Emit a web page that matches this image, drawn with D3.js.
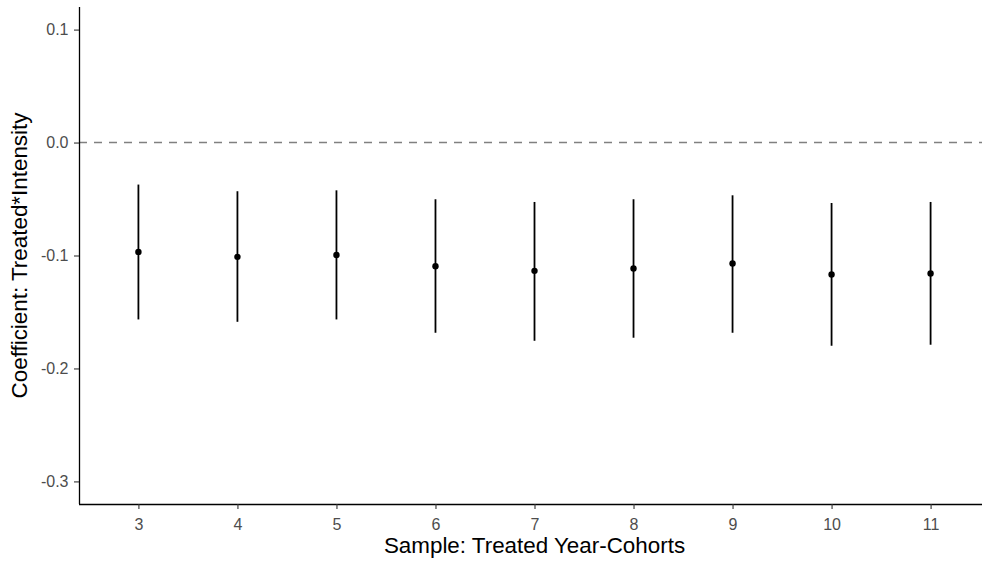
<!DOCTYPE html>
<html>
<head>
<meta charset="utf-8">
<script src="https://cdn.jsdelivr.net/npm/d3@7"></script>
<style>
  html, body { margin: 0; padding: 0; background: #fff; }
  svg { display: block; }
</style>
</head>
<body>
<svg id="chart" width="982" height="562"></svg>
<script>
const categories = ["3", "4", "5", "6", "7", "8", "9", "10", "11"];
const estimates = [-0.0968, -0.1012, -0.0995, -0.1095, -0.1136, -0.1115, -0.1071, -0.1168, -0.1159];
const ciLower = [-0.1566, -0.1587, -0.1566, -0.1684, -0.1755, -0.1728, -0.1684, -0.1799, -0.1790];
const ciUpper = [-0.0372, -0.0431, -0.0423, -0.0502, -0.0526, -0.0502, -0.0467, -0.0535, -0.0526];
const yTicks = [0.1, 0.0, -0.1, -0.2, -0.3];
const yTickLabels = ["0.1", "0.0", "-0.1", "-0.2", "-0.3"];
const xTitle = "Sample: Treated Year-Cohorts";
const yTitle = "Coefficient: Treated*Intensity";

(function () {
const data = categories.map((c, i) => ({ c, est: estimates[i], lo: ciLower[i], hi: ciUpper[i] }));

const svg = d3.select("#chart");
const pLeft = 79, pRight = 990, pTop = 7, pBottom = 504, visRight = 982;

const x = d3.scalePoint().domain(categories).range([pLeft, pRight]).padding(0.6);
const y = d3.scaleLinear().domain([-0.32, 0.12]).range([pBottom, pTop]);

const font = "Arial, 'Liberation Sans', sans-serif";

// zero reference line
svg.append("line")
  .attr("x1", pLeft).attr("x2", visRight)
  .attr("y1", y(0)).attr("y2", y(0))
  .attr("stroke", "#808080").attr("stroke-width", 1.4)
  .attr("stroke-dasharray", "8,7");

// error bars
svg.append("g").selectAll("line").data(data).join("line")
  .attr("x1", d => x(d.c)).attr("x2", d => x(d.c))
  .attr("y1", d => y(d.hi)).attr("y2", d => y(d.lo))
  .attr("stroke", "#000").attr("stroke-width", 1.8);

// points
svg.append("g").selectAll("circle").data(data).join("circle")
  .attr("cx", d => x(d.c)).attr("cy", d => y(d.est))
  .attr("r", 3.2).attr("fill", "#000");

// y axis
const yAxis = svg.append("g").attr("transform", `translate(${pLeft},0)`)
  .call(d3.axisLeft(y).tickValues(yTicks)
    .tickFormat((d, i) => yTickLabels[i]).tickSize(5).tickPadding(5.5));
yAxis.select(".domain").attr("stroke", "#000").attr("stroke-width", 1.3)
  .attr("d", `M0.5,${pTop}V${pBottom}`);
yAxis.selectAll(".tick line").attr("stroke", "#333").attr("stroke-width", 1.1);
yAxis.selectAll(".tick text").attr("fill", "#4D4D4D")
  .style("font-size", "16px").style("font-family", font);

// x axis
const xAxis = svg.append("g").attr("transform", `translate(0,${pBottom})`)
  .call(d3.axisBottom(x).tickSize(5).tickPadding(10));
xAxis.select(".domain").attr("stroke", "#000").attr("stroke-width", 1.3)
  .attr("d", `M${pLeft},0.5H${visRight}`);
xAxis.selectAll(".tick line").attr("stroke", "#333").attr("stroke-width", 1.1);
xAxis.selectAll(".tick text").attr("fill", "#4D4D4D")
  .style("font-size", "16px").style("font-family", font);

// titles
svg.append("text")
  .attr("x", (pLeft + pRight) / 2).attr("y", 553)
  .attr("text-anchor", "middle")
  .style("font-family", font).style("font-size", "22.4px").attr("fill", "#000")
  .text(xTitle);

svg.append("text")
  .attr("transform", `translate(27,${(pTop + pBottom) / 2}) rotate(-90)`)
  .attr("text-anchor", "middle")
  .style("font-family", font).style("font-size", "22.4px").attr("fill", "#000")
  .text(yTitle);
})();
</script>
</body>
</html>
